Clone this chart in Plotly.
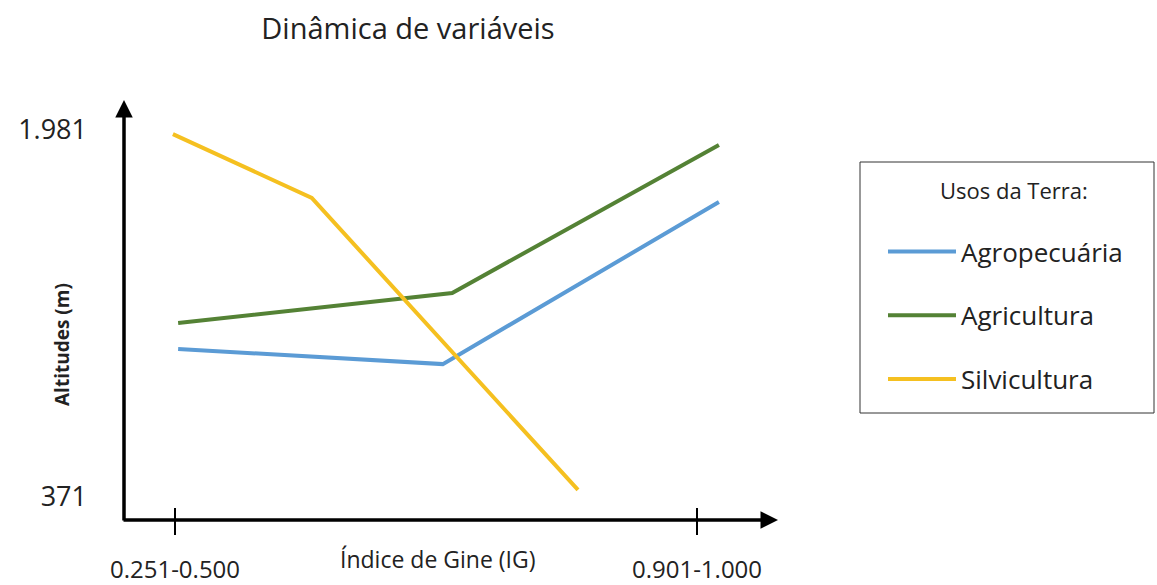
import plotly.graph_objects as go

# Data (x: 0 -> "0.251-0.500", 1 -> "0.901-1.000"; y: altitude in m)
tick_positions = [0, 1]
tick_labels = ["0.251-0.500", "0.901-1.000"]
y_tick_values = [371, 1981]
y_tick_labels = ["371", "1.981"]

agropecuaria_x = [0.006, 0.513, 1.042]
agropecuaria_y = [1020, 954, 1665]
agricultura_x = [0.006, 0.531, 1.042]
agricultura_y = [1134, 1266, 1915]
silvicultura_x = [-0.004, 0.262, 0.772]
silvicultura_y = [1963, 1683, 402]

FONT = "Open Sans"
TXT = "#222222"
W, H = 1157, 585
X0, X1, Y0, Y1 = 124, 778, 100, 520  # plot area in window pixels
PW = X1 - X0
PH = Y1 - Y0
L, T = X0, Y0
R = W - X1
B = H - Y1


def px_x(p):
    return (p - X0) / PW


def px_y(p):
    return (Y1 - p) / PH


fig = go.Figure()
series = [
    ("Agropecuária", agropecuaria_x, agropecuaria_y, "#5B9BD5"),
    ("Agricultura", agricultura_x, agricultura_y, "#548235"),
    ("Silvicultura", silvicultura_x, silvicultura_y, "#F5C020"),
]
for i, (name, xs, ys, c) in enumerate(series):
    fig.add_trace(go.Scatter(x=xs, y=ys, mode="lines", name=name,
                             line=dict(color=c, width=4), legendgroup=f"g{i}"))

# tick marks crossing the x axis
for tv in tick_positions:
    fig.add_shape(type="line", xref="x", yref="paper", x0=tv, x1=tv,
                  y0=-15 / PH, y1=12 / PH, line=dict(color="black", width=2))

# axis arrows
fig.add_annotation(xref="paper", yref="paper", x=0, y=1, ax=0, ay=PH + 2,
                   text="", showarrow=True,
                   arrowhead=2, arrowsize=1, arrowwidth=3.5, arrowcolor="black")
fig.add_annotation(xref="paper", yref="paper", x=1, y=0, ax=-PW - 2, ay=0,
                   text="", showarrow=True,
                   arrowhead=2, arrowsize=1, arrowwidth=3.5, arrowcolor="black")

fig.add_annotation(xref="paper", yref="paper", x=px_x(438), y=px_y(559),
                   xanchor="center", yanchor="middle",
                   text="Índice de Gine (IG)", showarrow=False,
                   font=dict(family=FONT, size=23, color=TXT))
fig.add_annotation(xref="paper", yref="paper", x=px_x(62), y=px_y(345),
                   xanchor="center", yanchor="middle",
                   text="<b>Altitudes (m)</b>", textangle=-90, showarrow=False,
                   font=dict(family=FONT, size=19, color=TXT))

# legend frame and heading
fig.add_shape(type="rect", xref="paper", yref="paper",
              x0=px_x(860), x1=px_x(1154), y0=px_y(413), y1=px_y(162),
              line=dict(color="#333333", width=1), fillcolor="rgba(0,0,0,0)")
fig.add_annotation(xref="paper", yref="paper", x=px_x(1014), y=px_y(190),
                   xanchor="center", yanchor="middle",
                   text="Usos da Terra:", showarrow=False,
                   font=dict(family=FONT, size=22, color=TXT))

fig.update_layout(
    width=W, height=H,
    margin=dict(l=L, r=R, t=T, b=B, autoexpand=False),
    paper_bgcolor="white", plot_bgcolor="white",
    title=dict(text="Dinâmica de variáveis", xref="paper", x=px_x(408),
               xanchor="center", y=1 - 29 / H, yanchor="middle",
               font=dict(family=FONT, size=29, color=TXT)),
    xaxis=dict(range=[-51 / 522, 603 / 522], showgrid=False, zeroline=False,
               showline=False, tickvals=tick_positions, ticktext=tick_labels,
               ticks="", ticklabelstandoff=33, automargin=False,
               tickfont=dict(family=FONT, size=24, color=TXT)),
    yaxis=dict(range=[371 - 23 * 1610 / 367, 1981 + 30 * 1610 / 367],
               showgrid=False, zeroline=False, showline=False,
               tickvals=y_tick_values, ticktext=y_tick_labels, ticks="",
               ticklabelstandoff=36, automargin=False,
               tickfont=dict(family=FONT, size=27, color=TXT)),
    legend=dict(x=px_x(883), y=px_y(228), xanchor="left", yanchor="top",
                borderwidth=0, bgcolor="rgba(0,0,0,0)",
                font=dict(family=FONT, size=26, color=TXT),
                tracegroupgap=27, itemwidth=68),
    showlegend=True,
)

fig.write_html("out.html",
               config={"displayModeBar": False},
               post_script="document.body.style.margin='0';"
                           "document.body.style.overflow='hidden';")
